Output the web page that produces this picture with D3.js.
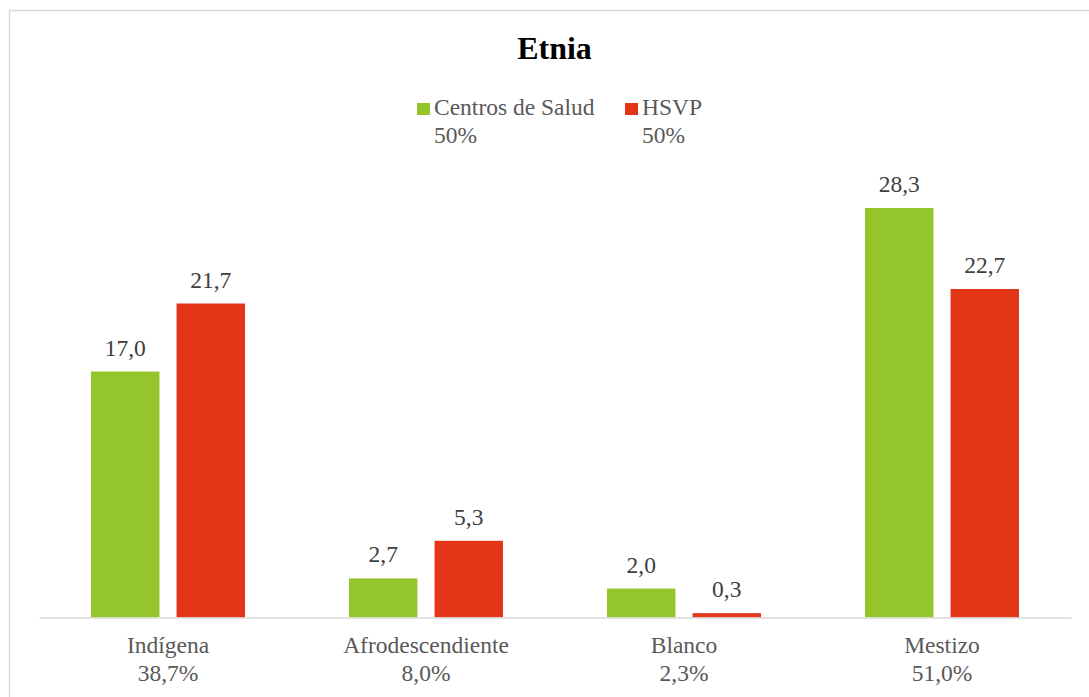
<!DOCTYPE html>
<html>
<head>
<meta charset="utf-8">
<title>Etnia</title>
<script src="https://d3js.org/d3.v7.min.js"></script>
<style>
  body { margin: 0; background: #fff; }
</style>
</head>
<body>
<div id="chart"></div>
<script>
// datos
const categories = ["Indígena", "Afrodescendiente", "Blanco", "Mestizo"];
const categoryPct = ["38,7%", "8,0%", "2,3%", "51,0%"];
const series = ["Centros de Salud", "HSVP"];
const seriesPct = ["50%", "50%"];
const centrosValues = [17.0, 2.7, 2.0, 28.3];
const hsvpValues = [21.7, 5.3, 0.3, 22.7];

const colors = { "Centros de Salud": "#94C52A", "HSVP": "#E33517" };
const FONT = "'Liberation Serif', 'Times New Roman', Tinos, 'DejaVu Serif', serif";

const width = 1089, height = 697;
const svg = d3.select("#chart").append("svg")
  .attr("width", width).attr("height", height)
  .style("font-family", FONT);

// marco
svg.append("path")
  .attr("d", `M9.5,${height} V10.5 H${width}`)
  .attr("fill", "none").attr("stroke", "#d9d9d9").attr("stroke-width", 1.5);

const plotLeft = 39, plotRight = 1071, baseY = 617.5;

const x0 = d3.scaleBand().domain(categories).range([plotLeft, plotRight]).padding(0);
const x1 = d3.scaleBand().domain(series)
  .range([x0.bandwidth() / 2 - 77, x0.bandwidth() / 2 + 77]).paddingInner(0.2);
const y = d3.scaleLinear().domain([0, 30]).range([baseY, baseY - 30 * 14.47]);

const rows = categories.map((c, i) => ({
  cat: c, pct: categoryPct[i],
  vals: [
    { s: series[0], v: centrosValues[i] },
    { s: series[1], v: hsvpValues[i] }
  ]
}));

// titulo
svg.append("text")
  .attr("x", 554.5).attr("y", 59)
  .attr("text-anchor", "middle")
  .attr("font-family", FONT)
  .style("font-size", "32px").style("font-weight", "bold")
  .attr("fill", "#000")
  .text("Etnia");

// leyenda
const legendX = [417, 625];
const leg = svg.selectAll("g.leg").data(series).enter().append("g")
  .attr("class", "leg")
  .attr("transform", (d, i) => `translate(${legendX[i]},0)`);
leg.append("rect")
  .attr("x", 0).attr("y", 103).attr("width", 13).attr("height", 12)
  .attr("fill", d => colors[d]);
leg.append("text")
  .attr("x", 17).attr("y", 115)
  .attr("fill", "#595959").style("font-size", "23.5px")
  .text(d => d);
leg.append("text")
  .attr("x", 17).attr("y", 143)
  .attr("fill", "#595959").style("font-size", "23.5px")
  .text((d, i) => seriesPct[i]);

// barras
const groups = svg.selectAll("g.cat").data(rows).enter().append("g")
  .attr("class", "cat")
  .attr("transform", d => `translate(${x0(d.cat)},0)`);

groups.selectAll("rect").data(d => d.vals).enter().append("rect")
  .attr("x", d => x1(d.s))
  .attr("width", x1.bandwidth())
  .attr("y", d => y(d.v))
  .attr("height", d => baseY - y(d.v))
  .attr("fill", d => colors[d.s]);

groups.selectAll("text.val").data(d => d.vals).enter().append("text")
  .attr("class", "val")
  .attr("x", d => x1(d.s) + x1.bandwidth() / 2)
  .attr("y", d => y(d.v) - 16)
  .attr("text-anchor", "middle")
  .attr("fill", "#404040").style("font-size", "23.5px")
  .text(d => d.v.toFixed(1).replace(".", ","));

// eje
const xAxis = svg.append("g")
  .attr("transform", `translate(0,${baseY})`)
  .call(d3.axisBottom(x0).tickSize(0).tickFormat(""));
xAxis.select(".domain").attr("stroke", "#d9d9d9").attr("stroke-width", 1.5);

groups.append("text")
  .attr("x", x0.bandwidth() / 2).attr("y", 653)
  .attr("text-anchor", "middle")
  .attr("fill", "#595959").style("font-size", "23.5px")
  .text(d => d.cat);
groups.append("text")
  .attr("x", x0.bandwidth() / 2).attr("y", 681)
  .attr("text-anchor", "middle")
  .attr("fill", "#595959").style("font-size", "23.5px")
  .text(d => d.pct);
</script>
</body>
</html>
